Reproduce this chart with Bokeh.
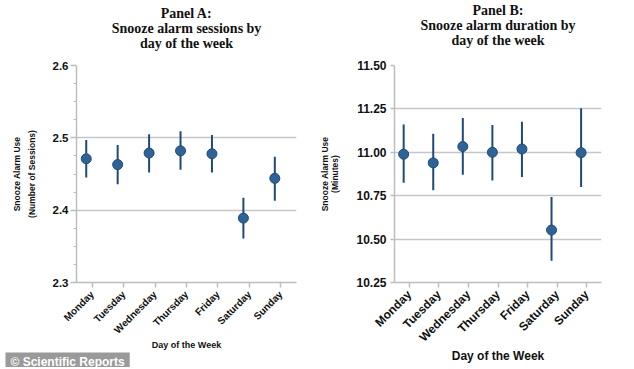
import math
from bokeh.plotting import figure
from bokeh.models import Range1d, FixedTicker, ColumnDataSource, PrintfTickFormatter, Title
from bokeh.transform import dodge
from bokeh.layouts import row
from bokeh.embed import file_html
from bokeh.resources import INLINE

days = ["Monday", "Tuesday", "Wednesday", "Thursday", "Friday", "Saturday", "Sunday"]

sessions_mean = [2.471, 2.463, 2.479, 2.482, 2.478, 2.389, 2.444]
sessions_lower = [2.445, 2.436, 2.452, 2.456, 2.452, 2.361, 2.413]
sessions_upper = [2.497, 2.490, 2.505, 2.509, 2.504, 2.417, 2.474]

duration_mean = [10.989, 10.939, 11.033, 11.000, 11.019, 10.552, 10.998]
duration_lower = [10.825, 10.781, 10.871, 10.838, 10.857, 10.376, 10.800]
duration_upper = [11.160, 11.107, 11.197, 11.157, 11.176, 10.743, 11.254]

sessions_ticks = [2.3, 2.4, 2.5, 2.6]
sessions_minor = [2.325, 2.35, 2.375, 2.425, 2.45, 2.475, 2.525, 2.55, 2.575]
duration_ticks = [10.25, 10.50, 10.75, 11.00, 11.25, 11.50]

title_a = ["Panel A:", "Snooze alarm sessions by", "day of the week"]
title_b = ["Panel B:", "Snooze alarm duration by", "day of the week"]
ylab_a = "Snooze Alarm Use\n(Number of Sessions)"
ylab_b = "Snooze Alarm Use\n(Minutes)"
xlab = "Day of the Week"
watermark = "\u00a9 Scientific Reports"

GRID = "#c6c6c6"
AXIS = "#bdbdbd"
DOT = "#2f6396"
DOT_EDGE = "#1f4a78"
BAR = "#1f4a78"


def panel(title_lines, spacer, ylab, mean, lo, hi, yr, ticks, minor, fmt, w, h, borders,
          ytick_size, xtick_size, xlab_size, ylab_lh, ylab_standoff, xlab_standoff,
          ytick_out, ylab_standoff_tick, xlab_tick_standoff):
    p = figure(x_range=days, y_range=Range1d(*yr), width=w, height=h,
               output_backend="svg", toolbar_location=None, title_location=None,
               min_border_left=borders[0], min_border_right=borders[1],
               min_border_top=borders[2], min_border_bottom=borders[3])
    # spacer between frame and title block
    p.add_layout(Title(text=" ", text_font="Liberation Serif", text_font_size="14px",
                       standoff=spacer), "above")
    for line in reversed(title_lines):
        t = Title(text=line, align="center", text_font="Liberation Serif",
                  text_font_style="bold", text_font_size="14px", text_color="#111111",
                  standoff=-2.5, offset=0)
        p.add_layout(t, "above")
    p.outline_line_color = None
    p.background_fill_color = "white"
    p.border_fill_color = "white"

    src = ColumnDataSource(dict(day=days, mean=mean, lo=lo, hi=hi))
    xd = dodge("day", -0.19, range=p.x_range)
    p.segment(x0=xd, y0="lo", x1=xd, y1="hi", source=src, line_color=BAR, line_width=2)
    p.scatter(x=xd, y="mean", source=src, size=10, fill_color=DOT, line_color=DOT_EDGE, line_width=1)

    p.xgrid.grid_line_color = None
    p.ygrid.grid_line_color = GRID
    p.ygrid.grid_line_width = 1.5
    p.yaxis.ticker = FixedTicker(ticks=ticks, minor_ticks=minor)
    p.yaxis.formatter = PrintfTickFormatter(format=fmt)

    for ax in (p.xaxis, p.yaxis):
        ax.axis_line_color = AXIS
        ax.axis_line_width = 1.5
        ax.major_tick_line_color = AXIS
        ax.major_tick_line_width = 1.5
        ax.major_tick_in = 0
        ax.minor_tick_line_color = AXIS
        ax.minor_tick_in = 0
        ax.major_label_text_font = "Liberation Sans"
        ax.major_label_text_font_style = "bold"
        ax.major_label_text_color = "#111111"
        ax.axis_label_text_font = "Liberation Sans"
        ax.axis_label_text_font_style = "bold"
        ax.axis_label_text_color = "#111111"

    p.yaxis.major_tick_out = ytick_out
    p.yaxis.minor_tick_out = 3
    p.yaxis.major_label_standoff = ylab_standoff_tick
    p.yaxis.major_label_text_font_size = ytick_size
    p.yaxis.axis_label = ylab
    p.yaxis.axis_label_text_font_size = "8.5px"
    p.yaxis.axis_label_text_line_height = ylab_lh
    p.yaxis.axis_label_standoff = ylab_standoff

    p.xaxis.major_tick_out = 5
    p.xaxis.major_label_standoff = xlab_tick_standoff
    p.xaxis.major_label_orientation = math.pi / 4
    p.xaxis.major_label_text_font_size = xtick_size
    p.xaxis.axis_label = xlab
    p.xaxis.axis_label_text_font_size = xlab_size
    p.xaxis.axis_label_standoff = xlab_standoff
    return p


pa = panel(title_a, -1, ylab_a, sessions_mean, sessions_lower, sessions_upper,
           (2.3, 2.6), sessions_ticks, sessions_minor, "%.1f", 317, 367,
           (76, 21, 65, 83), "11.5px", "10px", "9px", 1.45, 13, -2, 6, 2, 5)
pb = panel(title_b, 2, ylab_b, duration_mean, duration_lower, duration_upper,
           (10.25, 11.5), duration_ticks, [], "%.2f", 315, 367,
           (70, 31, 65, 83), "12px", "12px", "12px", 1.0, 13, -3, 4, 4, 5)

wm = Title(text=watermark, align="left", offset=-71, standoff=-6,
           text_font="Liberation Sans", text_font_style="bold", text_font_size="12px",
           text_color="white", background_fill_color="#9a9a9a", padding=(5, 2))
pa.add_layout(wm, "below")

layout = row(pa, pb)
open("out.html", "w").write(file_html(layout, INLINE))
